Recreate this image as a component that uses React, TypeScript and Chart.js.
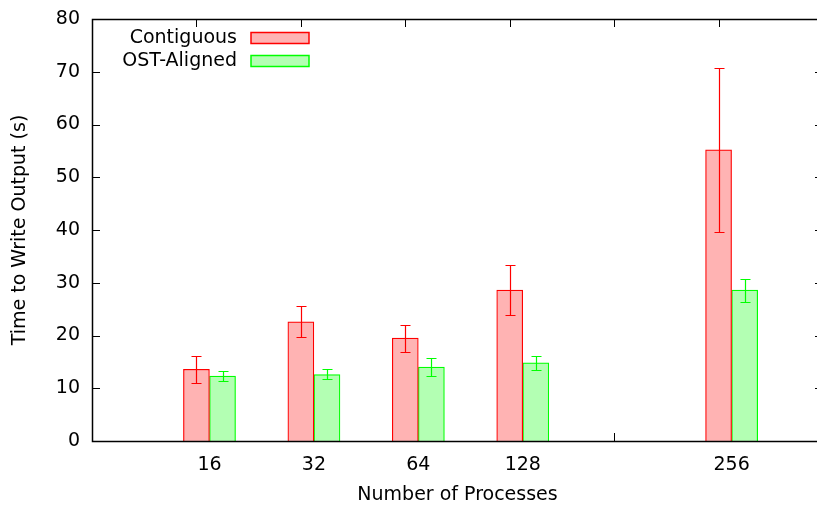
import React, { useEffect, useRef } from 'react';
import { Chart, registerables } from 'chart.js';

Chart.register(...registerables);

// ---- data ----
const categories = ['16', '32', '64', '128', '', '256'];
const seriesNames = ['Contiguous', 'OST-Aligned'];
const contiguous = [13.6, 22.6, 19.5, 28.6, 0, 55.2];
const contiguousLow = [11.0, 19.7, 16.9, 23.9, 0, 39.6];
const contiguousHigh = [16.2, 25.6, 21.9, 33.4, 0, 70.7];
const ostAligned = [12.3, 12.6, 14.0, 14.8, 0, 28.6];
const ostLow = [11.4, 11.7, 12.4, 13.4, 0, 26.4];
const ostHigh = [13.2, 13.6, 15.7, 16.2, 0, 30.8];
const yTickValues = [0, 10, 20, 30, 40, 50, 60, 70, 80];

// ---- style ----
const FONT = 'DejaVu Sans';
const FS = 19;
const RED_FILL = '#ffb3b3';
const RED_LINE = '#ff0000';
const GREEN_FILL = '#b3ffb3';
const GREEN_LINE = '#00ff00';
const BAR_SHIFT = 0.25;
const GROUP_CENTER = 0.125;

const errorLow = [contiguousLow, ostLow];
const errorHigh = [contiguousHigh, ostHigh];
const fills = [RED_FILL, GREEN_FILL];
const lines = [RED_LINE, GREEN_LINE];

const framePlugin = {
  id: 'gnuFrame',
  beforeDatasetsDraw(chart: any) {
    const { ctx, chartArea: a, scales } = chart;
    const x = scales.x;
    const y = scales.y;
    ctx.save();
    ctx.strokeStyle = '#000';
    ctx.lineWidth = 1;
    const tl = 8;
    yTickValues.forEach((v) => {
      const py = Math.round(y.getPixelForValue(v)) + 0.5;
      ctx.beginPath();
      ctx.moveTo(a.left, py);
      ctx.lineTo(a.left + tl, py);
      ctx.moveTo(a.right, py);
      ctx.lineTo(a.right - tl, py);
      ctx.stroke();
    });
    categories.forEach((_, i) => {
      const px = Math.round(x.getPixelForValue(i)) + 0.5;
      ctx.beginPath();
      ctx.moveTo(px, a.top);
      ctx.lineTo(px, a.top + tl);
      ctx.moveTo(px, a.bottom);
      ctx.lineTo(px, a.bottom - tl);
      ctx.stroke();
    });
    ctx.restore();
  },
  afterDatasetsDraw(chart: any) {
    const { ctx, chartArea: a, scales } = chart;
    const x = scales.x;
    const y = scales.y;
    ctx.save();
    [0, 1].forEach((d) => {
      ctx.strokeStyle = lines[d];
      ctx.lineWidth = 1.2;
      categories.forEach((_, i) => {
        const lo = errorLow[d][i];
        const hi = errorHigh[d][i];
        if (lo === hi) return;
        const px = Math.round(x.getPixelForValue(i + d * BAR_SHIFT)) + 0.5;
        const pl = Math.round(y.getPixelForValue(lo)) + 0.5;
        const ph = Math.round(y.getPixelForValue(hi)) + 0.5;
        ctx.beginPath();
        ctx.moveTo(px, pl);
        ctx.lineTo(px, ph);
        ctx.moveTo(px - 5, pl);
        ctx.lineTo(px + 5, pl);
        ctx.moveTo(px - 5, ph);
        ctx.lineTo(px + 5, ph);
        ctx.stroke();
      });
    });
    ctx.strokeStyle = '#000';
    ctx.lineWidth = 1.5;
    ctx.strokeRect(a.left + 0.5, a.top + 0.5, a.right - a.left, a.bottom - a.top);
    ctx.font = `${FS}px "${FONT}"`;
    ctx.textAlign = 'right';
    ctx.textBaseline = 'middle';
    seriesNames.forEach((name, k) => {
      const cy = a.top + 19 + k * 23;
      ctx.fillStyle = '#000';
      ctx.fillText(name, a.left + 145, cy);
      ctx.fillStyle = fills[k];
      ctx.fillRect(a.left + 159, cy - 5.5, 58, 11);
      ctx.strokeStyle = lines[k];
      ctx.lineWidth = 1.5;
      ctx.strokeRect(a.left + 159, cy - 5.5, 58, 11);
    });
    ctx.restore();
  },
};

export default function App() {
  const ref = useRef<HTMLCanvasElement | null>(null);
  useEffect(() => {
    if (!ref.current) return;
    const mkData = (vals: number[], shift: number) =>
      categories.map((_, i) => ({ x: i + shift, y: vals[i] }));
    const chart = new Chart(ref.current, {
      type: 'bar',
      data: {
        datasets: [
          {
            label: seriesNames[0],
            data: mkData(contiguous, 0),
            backgroundColor: RED_FILL,
            borderColor: RED_LINE,
            borderWidth: 1.2,
            barThickness: 26,
            grouped: false,
          } as any,
          {
            label: seriesNames[1],
            data: mkData(ostAligned, BAR_SHIFT),
            backgroundColor: GREEN_FILL,
            borderColor: GREEN_LINE,
            borderWidth: 1.2,
            barThickness: 26,
            grouped: false,
          } as any,
        ],
      },
      options: {
        responsive: false,
        animation: false,
        layout: { padding: { top: 19, left: 0, right: 0, bottom: 0 } },
        plugins: {
          legend: { display: false },
          tooltip: { enabled: false },
        },
        scales: {
          x: {
            type: 'linear',
            min: -1,
            max: 6,
            offset: false,
            grid: { display: false, drawTicks: false, offset: false },
            border: { display: false },
            afterBuildTicks: (scale: any) => {
              scale.ticks = categories
                .map((c, i) => ({ value: i + GROUP_CENTER, label: c }))
                .filter((t) => t.label !== '');
            },
            afterFit: (scale: any) => {
              scale.height = 65;
              scale.paddingLeft = 0;
              scale.paddingRight = 0;
            },
            ticks: {
              autoSkip: false,
              maxRotation: 0,
              padding: 13,
              color: '#000',
              font: { family: FONT, size: FS },
              callback: (v: any) => {
                const i = Math.round(Number(v) - GROUP_CENTER);
                return categories[i] ?? '';
              },
            },
            title: {
              display: true,
              text: 'Number of Processes',
              color: '#000',
              font: { family: FONT, size: FS },
              padding: { top: 0, bottom: 0 },
            },
          },
          y: {
            min: 0,
            max: 80,
            grid: { display: false, drawTicks: false },
            border: { display: false },
            afterBuildTicks: (scale: any) => {
              scale.ticks = yTickValues.map((v) => ({ value: v }));
            },
            afterFit: (scale: any) => {
              scale.width = 92;
              scale.paddingTop = 0;
              scale.paddingBottom = 0;
            },
            ticks: {
              padding: 12,
              color: '#000',
              font: { family: FONT, size: FS },
            },
            title: {
              display: true,
              text: 'Time to Write Output (s)',
              color: '#000',
              font: { family: FONT, size: FS },
              padding: { top: 9, bottom: 0 },
            },
          },
        },
      } as any,
      plugins: [framePlugin],
    });
    return () => chart.destroy();
  }, []);
  return (
    <div
      style={{
        position: 'absolute',
        left: 0,
        top: 0,
        width: 817,
        height: 506,
        overflow: 'hidden',
        background: '#fff',
      }}
    >
      <canvas ref={ref} width={823} height={506} style={{ display: 'block' }} />
    </div>
  );
}
